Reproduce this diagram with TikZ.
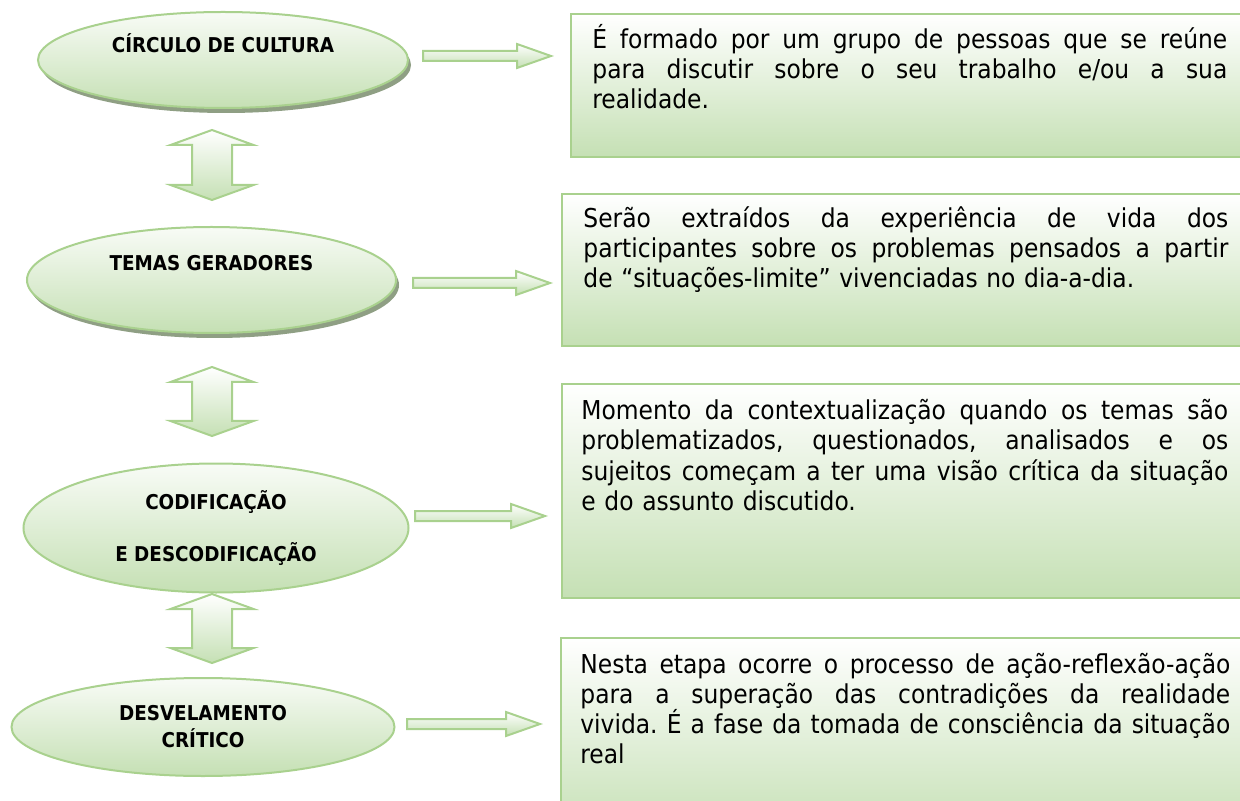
\documentclass[tikz,border=0pt]{standalone}
\usepackage{fontspec}
\setmainfont{DejaVu Sans Condensed}[BoldFont={DejaVu Sans Condensed Bold}]
\usepackage{tikz}
\usetikzlibrary{shapes.geometric, shadows}
\definecolor{lineGreen}{HTML}{A9D18E}
\definecolor{fillGreen}{HTML}{C5E0B4}
\definecolor{shadowGreen}{HTML}{8F9F84}
\newcommand{\fullLine}[2]{\makebox[#1][s]{\spaceskip=\fontdimen2\font plus 1fil\relax #2}}
\tikzstyle{stage} = [
                ellipse,
                draw=lineGreen,
                line width=1pt,
                top color=fillGreen!12,
                bottom color=fillGreen,
                font=\bfseries\fontsize{10.2}{12}\selectfont,
                align=center,
                inner sep=0pt
            ]
\tikzstyle{stageShadow} = [drop shadow={shadow xshift=1.5pt, shadow yshift=-2.5pt, fill=shadowGreen, opacity=1}]
\tikzstyle{infoBox} = [rectangle, anchor=north west, draw=lineGreen, line width=1pt, top color=white, bottom color=fillGreen, inner sep=0pt]
\tikzstyle{infoText} = [anchor=base west, inner sep=0pt, align=left, font=\fontsize{13}{15}\selectfont\frenchspacing]
\tikzstyle{blockArrow} = [draw=lineGreen, line width=1pt, top color=white, bottom color=fillGreen]
\tikzset{
    pics/rightArrow/.style={code={
        \draw[blockArrow] (0,-5) -- ({#1-34},-5) -- ({#1-34},-12) -- (#1,0) -- ({#1-34},12) -- ({#1-34},5) -- (0,5) -- cycle;
    }},
    pics/upDownArrow/.style={code={
        \draw[blockArrow] (0,0) -- (41.5,15) -- (20,15) -- (20,{#1-15}) -- (41.5,{#1-15}) -- (0,#1) -- (-41.5,{#1-15}) -- (-20,{#1-15}) -- (-20,15) -- (-41.5,15) -- cycle;
    }}
}

\begin{document}
\begin{tikzpicture}[x=0.5pt, y=-0.5pt]
    \useasboundingbox (0,0) rectangle (1240,801);

    % etapas
    \node (circulo) [stage, stageShadow, minimum width=185pt, minimum height=48pt, text height=8pt, text depth=15pt] at (223,60) {CÍRCULO DE CULTURA};
    \node (temas) [stage, stageShadow, minimum width=184.5pt, minimum height=53pt, text height=8pt, text depth=17pt] at (211.5,280) {TEMAS GERADORES};
    \node (codif) [stage, minimum width=192.5pt, minimum height=64.5pt] at (216,528) {CODIFICAÇÃO\\[14pt] E DESCODIFICAÇÃO};
    \node (desvel) [stage, minimum width=191.5pt, minimum height=49pt] at (203,727) {DESVELAMENTO\\[1.5pt] CRÍTICO};

    % setas entre etapas
    \pic (circuloTemas) at (212,130) {upDownArrow=70};
    \pic (temasCodif) at (212,367) {upDownArrow=69};
    \pic (codifDesvel) at (212,594) {upDownArrow=69};

    % quadros
    \node (quadroCirculo) [infoBox, minimum width=340pt, minimum height=71.5pt] at (570,13) {};
    \node (quadroTemas) [infoBox, minimum width=345pt, minimum height=76pt] at (561,193) {};
    \node (quadroCodif) [infoBox, minimum width=345pt, minimum height=107pt] at (561,383) {};
    \node (quadroDesvel) [infoBox, minimum width=345pt, minimum height=100pt] at (560,637) {};

    \node (textoCirculo) [infoText, text width=317.5pt] at (592,49) {%
        \fullLine{317.5pt}{É formado por um grupo de pessoas que se reúne}\\
        \fullLine{317.5pt}{para discutir sobre o seu trabalho e/ou a sua}\\
        realidade.};
    \node (textoTemas) [infoText, text width=322.5pt] at (583,228) {%
        \fullLine{322.5pt}{Serão extraídos da experiência de vida dos}\\
        \fullLine{322.5pt}{participantes sobre os problemas pensados a partir}\\
        de “situações-limite” vivenciadas no dia-a-dia.};
    \node (textoCodif) [infoText, text width=323.5pt] at (581,420) {%
        \fullLine{323.5pt}{Momento da contextualização quando os temas são}\\
        \fullLine{323.5pt}{problematizados, questionados, analisados e os}\\
        \fullLine{323.5pt}{sujeitos começam a ter uma visão crítica da situação}\\
        e do assunto discutido.};
    \node (textoDesvel) [infoText, text width=325pt] at (580,673) {%
        \fullLine{325pt}{Nesta etapa ocorre o processo de ação-reflexão-ação}\\
        \fullLine{325pt}{para a superação das contradições da realidade}\\
        \fullLine{325pt}{vivida. É a fase da tomada de consciência da situação}\\
        real};

    % setas para os quadros
    \pic (circuloQuadro) at (423,56) {rightArrow=128};
    \pic (temasQuadro) at (413,283) {rightArrow=137};
    \pic (codifQuadro) at (415,516) {rightArrow=130};
    \pic (desvelQuadro) at (407,724) {rightArrow=133};
\end{tikzpicture}
\end{document}
